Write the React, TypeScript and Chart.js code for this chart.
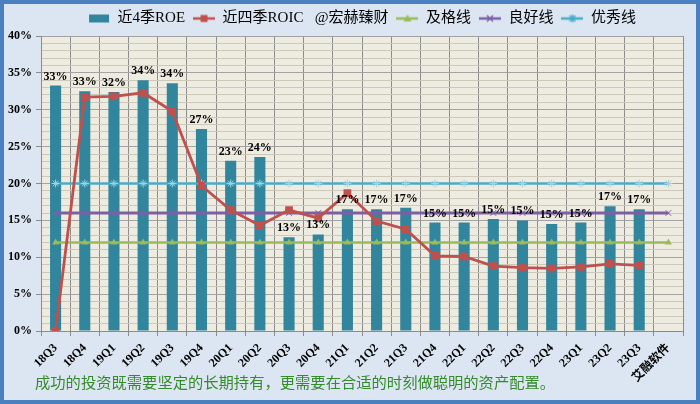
import React, { useEffect, useRef } from 'react';
import { Chart, registerables } from 'chart.js';

Chart.register(...registerables);

const categories = ['18Q3', '18Q4', '19Q1', '19Q2', '19Q3', '19Q4', '20Q1', '20Q2', '20Q3', '20Q4', '21Q1', '21Q2', '21Q3', '21Q4', '22Q1', '22Q2', '22Q3', '22Q4', '23Q1', '23Q2', '23Q3', '艾融软件'];
const roe = [33.3, 32.5, 32.4, 34.0, 33.6, 27.4, 23.1, 23.6, 12.7, 13.1, 16.5, 16.5, 16.7, 14.7, 14.7, 15.2, 15.0, 14.5, 14.7, 16.9, 16.5, null];
const roic = [0, 31.7, 31.8, 32.3, 29.8, 19.7, 16.4, 14.3, 16.4, 15.3, 18.7, 14.9, 13.8, 10.2, 10.1, 8.8, 8.6, 8.5, 8.7, 9.1, 8.9, null];
const passLine = [12, 12, 12, 12, 12, 12, 12, 12, 12, 12, 12, 12, 12, 12, 12, 12, 12, 12, 12, 12, 12, 12];
const goodLine = [16, 16, 16, 16, 16, 16, 16, 16, 16, 16, 16, 16, 16, 16, 16, 16, 16, 16, 16, 16, 16, 16];
const excellentLine = [20, 20, 20, 20, 20, 20, 20, 20, 20, 20, 20, 20, 20, 20, 20, 20, 20, 20, 20, 20, 20, 20];
const legendLabels = ['近4季ROE', '近四季ROIC   @宏赫臻财', '及格线', '良好线', '优秀线'];
const footerText = '成功的投资既需要坚定的长期持有，更需要在合适的时刻做聪明的资产配置。';

const SERIF = '"Liberation Serif", "Noto Sans CJK SC", serif';
const C_BAR = '#31859c';
const C_ROIC = '#c0504d';
const C_PASS = '#9bbb59';
const C_GOOD = '#7d5fa6';
const C_EXC = '#4bacc6';

function makeMarker(kind: string, color: string): HTMLCanvasElement {
  const c = document.createElement('canvas');
  c.width = 22;
  c.height = 12;
  const g = c.getContext('2d')!;
  if (kind === 'box') {
    g.fillStyle = color;
    g.fillRect(1, 2, 20, 8);
    return c;
  }
  g.strokeStyle = color;
  g.lineWidth = 2.5;
  g.beginPath();
  g.moveTo(0, 6);
  g.lineTo(22, 6);
  g.stroke();
  g.fillStyle = color;
  g.lineWidth = 1.5;
  if (kind === 'rect') {
    g.fillRect(7.5, 2.5, 7, 7);
  } else if (kind === 'tri') {
    g.beginPath();
    g.moveTo(11, 2);
    g.lineTo(15, 9);
    g.lineTo(7, 9);
    g.closePath();
    g.fill();
  } else if (kind === 'cross') {
    g.beginPath();
    g.moveTo(8, 3); g.lineTo(14, 9);
    g.moveTo(14, 3); g.lineTo(8, 9);
    g.stroke();
  } else if (kind === 'star') {
    g.beginPath();
    g.moveTo(8, 3); g.lineTo(14, 9);
    g.moveTo(14, 3); g.lineTo(8, 9);
    g.moveTo(11, 2); g.lineTo(11, 10);
    g.stroke();
  }
  return c;
}

const bgPlugin = {
  id: 'bgPlugin',
  afterLayout(chart: any) {
    if (chart.legend) {
      chart.legend.left += 19;
      chart.legend.right += 19;
    }
  },
  beforeDraw(chart: any) {
    const { ctx, chartArea } = chart;
    ctx.save();
    ctx.fillStyle = '#dce6f2';
    ctx.fillRect(0, 0, chart.width, chart.height);
    ctx.fillStyle = '#eeece1';
    ctx.fillRect(chartArea.left, chartArea.top, chartArea.right - chartArea.left, chartArea.bottom - chartArea.top);
    ctx.restore();
  },
  afterDraw(chart: any) {
    const { ctx } = chart;
    ctx.save();
    ctx.strokeStyle = '#4a7fc0';
    ctx.lineWidth = 4;
    ctx.strokeRect(2, 2, chart.width - 4, chart.height - 4);
    ctx.fillStyle = '#358a2c';
    ctx.font = '15.3px "Noto Sans CJK SC", sans-serif';
    ctx.textBaseline = 'middle';
    ctx.textAlign = 'left';
    ctx.fillText(footerText, 35, 382);
    ctx.restore();
  },
};

const labelPlugin = {
  id: 'labelPlugin',
  afterDatasetsDraw(chart: any) {
    const { ctx } = chart;
    const meta = chart.getDatasetMeta(0);
    ctx.save();
    ctx.font = 'bold 12px ' + SERIF;
    ctx.fillStyle = '#000';
    ctx.textAlign = 'center';
    ctx.textBaseline = 'bottom';
    meta.data.forEach((bar: any, i: number) => {
      const v = roe[i];
      if (v == null) return;
      ctx.fillText(Math.round(v) + '%', bar.x, bar.y - 3);
    });
    ctx.restore();
  },
};

export default function App() {
  const ref = useRef<HTMLCanvasElement>(null);
  useEffect(() => {
    document.body.style.margin = '0';
    const markers = [
      makeMarker('box', C_BAR),
      makeMarker('rect', C_ROIC),
      makeMarker('tri', C_PASS),
      makeMarker('cross', C_GOOD),
      makeMarker('star', C_EXC),
    ];
    const chart = new Chart(ref.current!, {
      type: 'bar',
      data: {
        labels: categories,
        datasets: [
          {
            type: 'bar',
            label: legendLabels[0],
            data: roe,
            backgroundColor: C_BAR,
            barPercentage: 0.38,
            categoryPercentage: 1,
            order: 10,
          },
          {
            type: 'line',
            label: legendLabels[1],
            data: roic,
            borderColor: C_ROIC,
            backgroundColor: C_ROIC,
            borderWidth: 2.8,
            pointStyle: 'rect',
            pointRadius: 5.5,
            pointBorderWidth: 0,
            tension: 0,
            order: 1,
          },
          {
            type: 'line',
            label: legendLabels[2],
            data: passLine,
            borderColor: C_PASS,
            backgroundColor: C_PASS,
            borderWidth: 2.5,
            pointStyle: 'triangle',
            pointRadius: 4,
            pointBorderWidth: 0,
            order: 4,
          },
          {
            type: 'line',
            label: legendLabels[3],
            data: goodLine,
            borderColor: C_GOOD,
            backgroundColor: C_GOOD,
            borderWidth: 2.8,
            pointStyle: 'crossRot',
            pointRadius: 4,
            pointBorderWidth: 1,
            order: 3,
          },
          {
            type: 'line',
            label: legendLabels[4],
            data: excellentLine,
            borderColor: C_EXC,
            backgroundColor: C_EXC,
            borderWidth: 2.5,
            pointStyle: 'star',
            pointRadius: 4,
            pointBorderWidth: 1,
            pointBorderColor: '#9dd3e3',
            order: 2,
          },
        ],
      },
      options: {
        responsive: false,
        animation: false,
        devicePixelRatio: 1,
        layout: { padding: { left: 3, right: 17, top: 3, bottom: 0 } },
        plugins: {
          tooltip: { enabled: false },
          legend: {
            position: 'top',
            labels: {
              usePointStyle: true,
              pointStyleWidth: 22,
              padding: 8,
              color: '#1a1a1a',
              font: { size: 15, family: SERIF },
              generateLabels: () =>
                legendLabels.map((t, i) => ({
                  text: t,
                  pointStyle: markers[i],
                  fillStyle: 'transparent',
                  strokeStyle: 'transparent',
                  lineWidth: 0,
                  hidden: false,
                  datasetIndex: i,
                })),
            },
          },
        },
        scales: {
          x: {
            offset: true,
            grid: {
              offset: true,
              color: '#8c8c8c',
              tickColor: '#8c8c8c',
              tickLength: 5,
            },
            border: { color: '#8c8c8c' },
            ticks: {
              autoSkip: false,
              minRotation: 45,
              maxRotation: 45,
              padding: 5,
              color: '#000',
              font: { size: 12, weight: 'bold', family: SERIF },
            },
            afterFit: (s: any) => { s.height = 73; },
          },
          y: {
            min: 0,
            max: 40,
            grid: {
              color: (c: any) => (c.tick && c.tick.value % 5 === 0 ? '#a3a3a3' : '#cdc9ba'),
              tickColor: (c: any) => (c.tick && c.tick.value % 5 === 0 ? '#8c8c8c' : 'transparent'),
              tickLength: 5,
            },
            border: { color: '#8c8c8c' },
            ticks: {
              stepSize: 1,
              autoSkip: false,
              padding: 4,
              color: '#000',
              font: { size: 12, weight: 'bold', family: SERIF },
              callback: (v: any) => (Number(v) % 5 === 0 ? v + '%' : ''),
            },
            afterFit: (s: any) => { s.width = 38; },
          },
        },
      },
      plugins: [bgPlugin, labelPlugin],
    } as any);
    return () => chart.destroy();
  }, []);
  return (
    <div style={{ position: 'absolute', left: 0, top: 0, width: 700, height: 404 }}>
      <canvas ref={ref} width={700} height={404} />
    </div>
  );
}
